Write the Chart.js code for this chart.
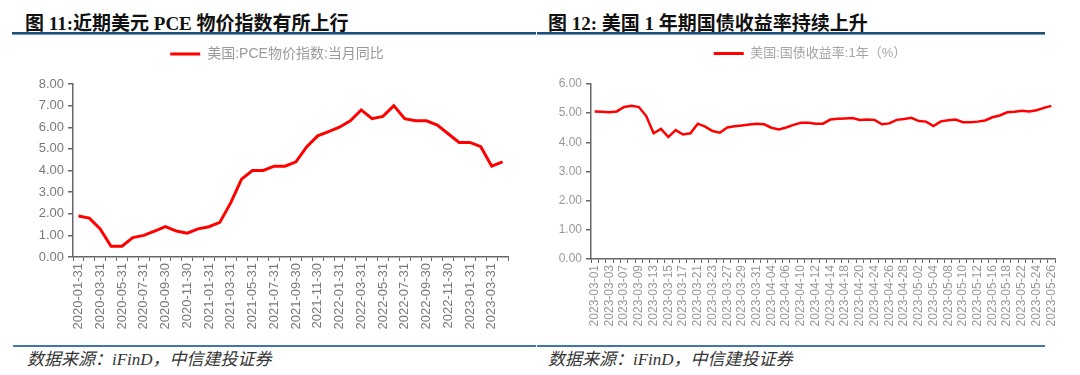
<!DOCTYPE html>
<html>
<head>
<meta charset="utf-8">
<script src="https://cdn.jsdelivr.net/npm/chart.js@4"></script>
<style>
  body { margin: 0; width: 1080px; height: 375px; background: #fff; position: relative; overflow: hidden; }
  .title { position: absolute; top: 8px; font: bold 19px "Liberation Serif", "Noto Sans CJK SC", serif; color: #111; white-space: nowrap; }
  .rule { position: absolute; height: 2px; background: #1f4e79; border-bottom: 1px solid #6a9acb; }
  .rule2 { position: absolute; height: 2px; background: #3f76ad; }
  .src { position: absolute; top: 345px; font: italic 17px "Liberation Serif", "Noto Sans CJK SC", serif; color: #333; white-space: nowrap; }
  canvas { position: absolute; top: 0; }
</style>
</head>
<body>
<div class="title" style="left:25px">图 11:近期美元 PCE 物价指数有所上行</div>
<div class="title" style="left:548px">图 12: 美国 1 年期国债收益率持续上升</div>
<div class="rule" style="left:12px; top:32px; width:524px"></div>
<div class="rule" style="left:537px; top:32px; width:508px"></div>

<canvas id="pce" width="540" height="345" style="left:0"></canvas>
<canvas id="yield" width="540" height="345" style="left:540px"></canvas>

<div class="rule2" style="left:13px; top:345px; width:523px"></div>
<div class="rule2" style="left:537px; top:345px; width:508px"></div>
<div class="src" style="left:27px">数据来源：iFinD，中信建投证券</div>
<div class="src" style="left:548px">数据来源：iFinD，中信建投证券</div>

<script>
// 图11: 美国 PCE 物价指数 当月同比 (%)
const pceDates = [
  '2020-01-31','2020-02-29','2020-03-31','2020-04-30','2020-05-31','2020-06-30','2020-07-31','2020-08-31',
  '2020-09-30','2020-10-31','2020-11-30','2020-12-31','2021-01-31','2021-02-28','2021-03-31','2021-04-30',
  '2021-05-31','2021-06-30','2021-07-31','2021-08-31','2021-09-30','2021-10-31','2021-11-30','2021-12-31',
  '2022-01-31','2022-02-28','2022-03-31','2022-04-30','2022-05-31','2022-06-30','2022-07-31','2022-08-31',
  '2022-09-30','2022-10-31','2022-11-30','2022-12-31','2023-01-31','2023-02-28','2023-03-31','2023-04-30'
];
const pceValues = [
  1.9, 1.8, 1.3, 0.5, 0.5, 0.9, 1.0, 1.2, 1.4, 1.2, 1.1, 1.3,
  1.4, 1.6, 2.5, 3.6, 4.0, 4.0, 4.2, 4.2, 4.4, 5.1, 5.6, 5.8,
  6.0, 6.3, 6.8, 6.4, 6.5, 7.0, 6.4, 6.3, 6.3, 6.1, 5.7, 5.3,
  5.3, 5.1, 4.2, 4.4
];
const pceLabel = '美国:PCE物价指数:当月同比';

// 图12: 美国 1 年期国债收益率 (%)
const yieldDates = [
  '2023-03-01','2023-03-02','2023-03-03','2023-03-06','2023-03-07','2023-03-08','2023-03-09','2023-03-10',
  '2023-03-13','2023-03-14','2023-03-15','2023-03-16','2023-03-17','2023-03-20','2023-03-21','2023-03-22',
  '2023-03-23','2023-03-24','2023-03-27','2023-03-28','2023-03-29','2023-03-30','2023-03-31','2023-04-03',
  '2023-04-04','2023-04-05','2023-04-06','2023-04-07','2023-04-10','2023-04-11','2023-04-12','2023-04-13',
  '2023-04-14','2023-04-17','2023-04-18','2023-04-19','2023-04-20','2023-04-21','2023-04-24','2023-04-25',
  '2023-04-26','2023-04-27','2023-04-28','2023-05-01','2023-05-02','2023-05-03','2023-05-04','2023-05-05',
  '2023-05-08','2023-05-09','2023-05-10','2023-05-11','2023-05-12','2023-05-15','2023-05-16','2023-05-17',
  '2023-05-18','2023-05-19','2023-05-22','2023-05-23','2023-05-24','2023-05-25','2023-05-26'
];
const yieldValues = [
  5.06, 5.05, 5.03, 5.06, 5.21, 5.25, 5.21, 4.90,
  4.31, 4.46, 4.18, 4.42, 4.27, 4.31, 4.64, 4.54,
  4.39, 4.33, 4.51, 4.55, 4.58, 4.61, 4.64, 4.62,
  4.50, 4.44, 4.51, 4.60, 4.67, 4.67, 4.64, 4.64,
  4.78, 4.81, 4.82, 4.83, 4.77, 4.78, 4.77, 4.62,
  4.65, 4.77, 4.80, 4.84, 4.73, 4.71, 4.56, 4.72,
  4.76, 4.78, 4.69, 4.69, 4.71, 4.75, 4.86, 4.92,
  5.03, 5.05, 5.08, 5.06, 5.10, 5.18, 5.25
];
const yieldLabel = '美国:国债收益率:1年（%）';

Chart.defaults.font.family = '"Liberation Sans", "Noto Sans CJK SC", sans-serif';
Chart.defaults.animation = false;

// fixes the legend block height and nudges it sideways, so the plot area
// and legend sit where the reference has them
function legendBox(h, dx) {
  return {
    id: 'legendBox',
    beforeInit(chart) {
      const fit = chart.legend.fit;
      chart.legend.fit = function () { fit.call(this); this.height = h; };
    },
    afterLayout(chart) {
      chart.legend.left += dx;
      chart.legend.right += dx;
    }
  };
}

function lineChart(id, cfg) {
  return new Chart(document.getElementById(id), {
    type: 'line',
    data: {
      labels: cfg.labels,
      datasets: [{
        label: cfg.name,
        data: cfg.values,
        borderColor: '#ff0000',
        backgroundColor: '#ff0000',
        borderWidth: cfg.lineW,
        pointRadius: 0,
        tension: 0,
        fill: false
      }]
    },
    options: {
      responsive: false,
      layout: { padding: cfg.pad },
      plugins: {
        tooltip: { enabled: false },
        legend: {
          labels: {
            boxWidth: 30,
            boxHeight: 3,
            padding: 10,
            color: cfg.legendColor,
            font: { size: cfg.legendFont },
            generateLabels(chart) {
              const items = Chart.defaults.plugins.legend.labels.generateLabels(chart);
              items.forEach(it => { it.lineWidth = 0; it.fillStyle = '#ff0000'; });
              return items;
            }
          }
        }
      },
      scales: {
        x: {
          offset: true,
          grid: { offset: true, drawOnChartArea: false, tickLength: 4, color: '#666', lineWidth: 1 },
          border: { color: '#666', width: 1.5 },
          ticks: {
            autoSkip: false, minRotation: 90, maxRotation: 90, padding: 2,
            color: cfg.tickColor, font: { size: cfg.xFont },
            callback(v, i) { return i % 2 === 0 ? this.getLabelForValue(v) : ''; }
          },
          afterFit(s) { s.height = cfg.xH; }
        },
        y: {
          min: 0, max: cfg.yMax,
          grid: { drawOnChartArea: false, tickLength: 5, color: '#666', lineWidth: 1.5 },
          border: { color: '#666', width: 1.5 },
          ticks: {
            stepSize: 1, padding: 4,
            color: cfg.tickColor, font: { size: cfg.yFont },
            callback: v => v.toFixed(2)
          },
          afterFit(s) { s.width = cfg.yW; }
        }
      }
    },
    plugins: [legendBox(cfg.legendH, cfg.legendDx)]
  });
}

lineChart('pce', {
  labels: pceDates, values: pceValues, name: pceLabel,
  lineW: 3, yMax: 8,
  pad: { left: 20, right: 32, top: 37, bottom: 0 },
  legendH: 47, legendDx: 13, legendFont: 14,
  xH: 88, yW: 53,
  xFont: 13, yFont: 13,
  tickColor: '#7a7a7a', legendColor: '#9a9a9a'
});

lineChart('yield', {
  labels: yieldDates, values: yieldValues, name: yieldLabel,
  lineW: 2.5, yMax: 6,
  pad: { left: 13, right: 25, top: 37, bottom: 0 },
  legendH: 47, legendDx: 6, legendFont: 13,
  xH: 86, yW: 38,
  xFont: 12, yFont: 12,
  tickColor: '#999', legendColor: '#a5a5a5'
});
</script>
</body>
</html>
